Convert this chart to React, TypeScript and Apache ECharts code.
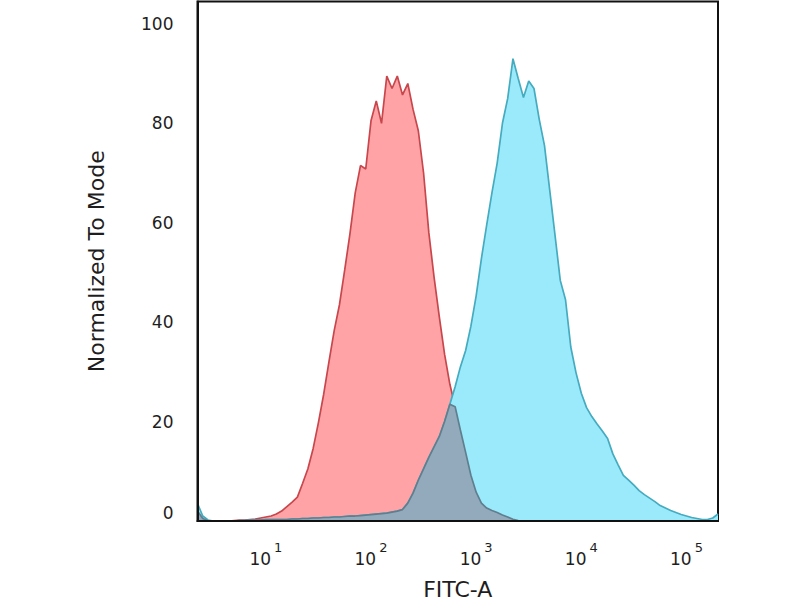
import React, { useEffect, useRef } from "react";
import * as echarts from "echarts";

// log10(FITC-A) bin positions
const exponents = [
  0.35, 0.4, 0.45, 0.5, 0.55, 0.6, 0.65, 0.7, 0.75, 0.8,
  0.85, 0.9, 0.95, 1.0, 1.05, 1.1, 1.15, 1.2, 1.25, 1.3,
  1.35, 1.4, 1.45, 1.5, 1.55, 1.6, 1.65, 1.7, 1.75, 1.8,
  1.85, 1.9, 1.95, 2.0, 2.05, 2.1, 2.15, 2.2, 2.25, 2.3,
  2.35, 2.4, 2.45, 2.5, 2.55, 2.6, 2.65, 2.7, 2.75, 2.8,
  2.85, 2.9, 2.95, 3.0, 3.05, 3.1, 3.15, 3.2, 3.25, 3.3,
  3.35, 3.4, 3.45, 3.5, 3.55, 3.6, 3.65, 3.7, 3.75, 3.8,
  3.85, 3.9, 3.95, 4.0, 4.05, 4.1, 4.15, 4.2, 4.25, 4.3,
  4.35, 4.4, 4.45, 4.5, 4.55, 4.6, 4.65, 4.7, 4.75, 4.8,
  4.85, 4.9, 4.95, 5.0, 5.05, 5.1, 5.15, 5.2, 5.25, 5.3,
];

// Isotype control (red)
const controlValues = [
  2.0, 0.5, 0, 0, 0, 0, 0, 0.1, 0.2, 0.2,
  0.3, 0.4, 0.6, 0.8, 1.0, 1.4, 2.0, 2.9, 3.8, 4.8,
  7.6, 10.5, 14.6, 19.8, 25.5, 32, 38.3, 43.5, 50.5, 57.8,
  66, 71.5, 70.8, 80.5, 84.5, 80, 89.5, 87, 89.5, 85.7,
  88, 82.8, 78.5, 70, 58, 49, 41, 33.5, 27.5, 23,
  18.3, 13.8, 9.2, 5.8, 3.6, 2.6, 2.1, 1.7, 1.2, 0.8,
  0.35, 0.1, 0, 0, 0, 0, 0, 0, 0, 0,
  0, 0, 0, 0, 0, 0, 0, 0, 0, 0,
  0, 0, 0, 0, 0, 0, 0, 0, 0, 0,
  0, 0, 0, 0, 0, 0, 0, 0, 0, 0,
];

// Stained sample (blue)
const stainedValues = [
  3.5, 1.0, 0.2, 0, 0, 0, 0, 0, 0.1, 0.1,
  0.2, 0.2, 0.2, 0.3, 0.3, 0.3, 0.3, 0.3, 0.4, 0.4,
  0.5, 0.5, 0.6, 0.6, 0.7, 0.7, 0.8, 0.8, 0.9, 1.0,
  1.0, 1.1, 1.2, 1.3, 1.4, 1.5, 1.6, 1.8, 2.0, 2.3,
  3.6, 5.6, 8.2, 10.5, 12.8, 14.9, 17, 20, 23.5, 27,
  31, 34.3, 39.2, 45.3, 52.8, 59.5, 66, 72, 80, 85,
  93, 89, 85.2, 88.5, 87, 80.8, 75.5, 66.5, 57.5, 48.4,
  44.5, 35, 29.8, 25.7, 22.8, 21, 19.5, 18.1, 16.6, 13.5,
  11.3, 9.2, 8.2, 7.2, 6.1, 5.3, 4.6, 3.9, 3.1, 2.6,
  2.1, 1.7, 1.3, 1.0, 0.7, 0.5, 0.3, 0.3, 0.6, 1.4,
];

const xTickExponents = [1, 2, 3, 4, 5];
const yTickValues = [0, 20, 40, 60, 80, 100];

const FONT = "DejaVu Sans";
const TEXT = "#1e1e1e";

export default function App() {
  const ref = useRef<HTMLDivElement>(null);

  useEffect(() => {
    document.body.style.margin = "0";
    if (!ref.current) return;
    const chart = echarts.init(ref.current, null, { renderer: "svg" });

    const control = exponents.map((e, i) => [e, controlValues[i]]);
    const stained = exponents.map((e, i) => [e, stainedValues[i]]);
    const overlap = exponents.map((e, i) => [
      e,
      Math.min(controlValues[i], stainedValues[i]),
    ]);

    chart.setOption({
      animation: false,
      grid: {
        left: 197.5,
        right: 82,
        top: 1.5,
        bottom: 79,
        show: true,
        borderColor: "#111",
        borderWidth: 2,
        backgroundColor: "transparent",
        containLabel: false,
        outerBoundsMode: "none",
      },
      xAxis: {
        type: "value",
        min: 0.35,
        max: 5.3,
        z: 10,
        axisLine: { show: true, onZero: false, lineStyle: { color: "#111", width: 2 } },
        axisTick: { show: false },
        splitLine: { show: false },
        axisLabel: {
          customValues: xTickExponents,
          margin: 20,
          formatter: (v: number) => `{b|10}{s|${Math.round(v)}}`,
          rich: {
            b: {
              fontSize: 17,
              fontFamily: FONT,
              color: TEXT,
              lineHeight: 26,
              verticalAlign: "bottom",
            },
            s: {
              fontSize: 13,
              fontFamily: FONT,
              color: TEXT,
              lineHeight: 16,
              padding: [0, 0, 0, 3],
              verticalAlign: "top",
            },
          },
        },
        name: "FITC-A",
        nameLocation: "middle",
        nameGap: 57,
        nameTextStyle: { fontSize: 22, fontFamily: FONT, color: TEXT },
      },
      yAxis: {
        type: "value",
        min: 0,
        max: 104.5,
        z: 10,
        axisLine: { show: true, lineStyle: { color: "#111", width: 2 } },
        axisTick: { show: false },
        splitLine: { show: false },
        axisLabel: {
          customValues: yTickValues,
          margin: 24,
          fontSize: 17,
          fontFamily: FONT,
          color: TEXT,
          formatter: (v: number) => (v === 0 ? "{z|0}" : String(v)),
          rich: {
            z: { fontSize: 17, fontFamily: FONT, color: TEXT, padding: [0, 0, 16, 0] },
          },
        },
        name: "Normalized To Mode",
        nameLocation: "middle",
        nameRotate: 90,
        nameGap: 90,
        nameTextStyle: { fontSize: 22, fontFamily: FONT, color: TEXT },
      },
      series: [
        {
          name: "Control",
          type: "line",
          data: control,
          showSymbol: false,
          symbol: "none",
          lineStyle: { color: "#c8474d", width: 1.7 },
          areaStyle: { color: "#ffa3a6", opacity: 1 },
          z: 2,
        },
        {
          name: "Stained",
          type: "line",
          data: stained,
          showSymbol: false,
          symbol: "none",
          lineStyle: { color: "#45abbf", width: 1.7 },
          areaStyle: { color: "#9aeafc", opacity: 1 },
          z: 3,
        },
        {
          name: "Overlap",
          type: "line",
          data: overlap,
          showSymbol: false,
          symbol: "none",
          lineStyle: { color: "#5f7f8f", width: 1.7 },
          areaStyle: { color: "#93aabd", opacity: 1 },
          z: 4,
        },
      ],
    });

    return () => chart.dispose();
  }, []);

  return <div ref={ref} style={{ width: 800, height: 600 }} />;
}
